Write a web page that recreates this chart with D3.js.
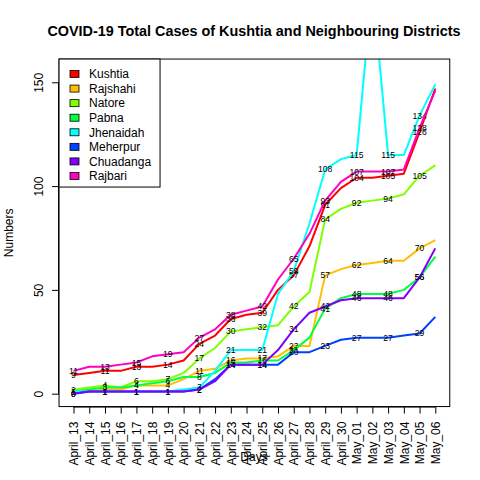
<!DOCTYPE html>
<html><head><meta charset="utf-8">
<script src="https://cdn.jsdelivr.net/npm/d3@7"></script>
<style>body{margin:0;background:#fff}svg{display:block}text{font-family:"Liberation Sans",Arial,sans-serif}</style>
</head><body><svg id="c" width="480" height="480"></svg>
<script>
const dates = ["April_13","April_14","April_15","April_16","April_17","April_18","April_19","April_20","April_21","April_22","April_23","April_24","April_25","April_26","April_27","April_28","April_29","April_30","May_01","May_02","May_03","May_04","May_05","May_06"];
const districts = ["Kushtia","Rajshahi","Natore","Pabna","Jhenaidah","Meherpur","Chuadanga","Rajbari"];
const kushtia   = [9,10,11,11,13,13,14,16,24,28,36,38,39,50,57,71,91,99,104,104,105,106,126,147];
const rajshahi  = [1,1,2,2,4,4,4,7,11,12,16,17,17,18,23,23,57,60,62,63,64,64,70,74];
const natore    = [2,3,4,3,6,6,7,10,17,22,30,31,32,33,42,49,84,89,92,93,94,96,105,110];
const pabna     = [1,2,3,3,4,5,6,8,8,10,15,15,16,16,21,27,41,46,48,48,48,50,56,66];
const jhenaidah = [1,1,1,1,1,1,1,2,3,11,21,21,21,48,59,82,108,113,115,197,115,115,134,149];
const meherpur  = [0,1,1,1,1,1,1,1,2,7,14,14,14,14,20,20,23,26,27,27,27,28,29,37];
const chuadanga = [0,1,1,1,1,1,1,1,2,6,14,14,14,21,31,39,42,45,46,46,46,46,56,70];
const rajbari   = [11,13,13,14,15,18,19,20,27,31,38,40,42,55,65,77,93,102,107,107,107,108,128,146];
const yTicks = [0,50,100,150];
const colors = ["#FF0000","#FFBF00","#80FF00","#00FF40","#00FFFF","#0040FF","#8000FF","#FF00BF"];

const series = [kushtia,rajshahi,natore,pabna,jhenaidah,meherpur,chuadanga,rajbari];
const L=59.04, R=449.76, T=59.04, B=406.56;
const svg = d3.select("#c");
const x = d3.scaleLinear().domain([1-0.04*23, 24+0.04*23]).range([L,R]);
const y = d3.scaleLinear().domain([0-0.04*155, 155+0.04*155]).range([B,T]);

svg.append("defs").append("clipPath").attr("id","clip")
  .append("rect").attr("x",L).attr("y",T).attr("width",R-L).attr("height",B-T);

const g = svg.append("g").attr("clip-path","url(#clip)");
const line = d3.line().x((d,i)=>x(i+1)).y(d=>y(d));
series.forEach((s,k)=>{
  g.append("path").datum(s).attr("d",line).attr("fill","none")
    .attr("stroke",colors[k]).attr("stroke-width",2).attr("stroke-linejoin","round");
  g.selectAll(null).data(s.map((v,i)=>({v,i})).filter(d=>d.i%2===0)).enter()
    .append("text").attr("x",d=>x(d.i+1)).attr("y",d=>y(d.v))
    .attr("text-anchor","middle").attr("dominant-baseline","central")
    .attr("font-size","8.6px").attr("fill","#000").text(d=>d.v);
});

// box
svg.append("rect").attr("x",L).attr("y",T).attr("width",R-L).attr("height",B-T)
  .attr("fill","none").attr("stroke","#000").attr("stroke-width",1);

// x axis
const xa = d3.axisBottom(x).tickValues(d3.range(1,25)).tickSize(7).tickFormat(d=>dates[d-1]);
const gx = svg.append("g").attr("transform",`translate(0,${B})`).call(xa);
gx.select(".domain").attr("d",`M${x(1)},0.5H${x(24)}`).attr("stroke","#000");
gx.selectAll(".tick line").attr("stroke","#000");
gx.selectAll(".tick text").attr("font-size","12px").attr("fill","#000")
  .attr("font-family","Liberation Sans, Arial, sans-serif")
  .attr("text-anchor","end").attr("dy","0.35em")
  .attr("transform","translate(0,15) rotate(-90)").attr("x",0).attr("y",0);

// y axis
const ya = d3.axisLeft(y).tickValues(yTicks).tickSize(7).tickFormat(d3.format("d"));
const gy = svg.append("g").attr("transform",`translate(${L},0)`).call(ya);
gy.select(".domain").attr("d",`M-0.5,${y(0)}V${y(150)}`).attr("stroke","#000");
gy.selectAll(".tick line").attr("stroke","#000");
gy.selectAll(".tick text").attr("font-size","12px").attr("fill","#000")
  .attr("font-family","Liberation Sans, Arial, sans-serif")
  .attr("text-anchor","middle").attr("x",0).attr("y",0).attr("dy",0)
  .attr("transform","translate(-16,0) rotate(-90)");

// titles
svg.append("text").attr("x",254).attr("y",36).attr("text-anchor","middle")
  .attr("font-size","14.4px").attr("font-weight","bold").text("COVID-19 Total Cases of Kushtia and Neighbouring Districts");
svg.append("text").attr("x",254).attr("y",461).attr("text-anchor","middle")
  .attr("font-size","12px").text("Days");
svg.append("text").attr("transform",`translate(13,${(T+B)/2}) rotate(-90)`).attr("text-anchor","middle")
  .attr("font-size","12px").text("Numbers");

// legend
const lg = svg.append("g");
lg.append("rect").attr("x",L).attr("y",T).attr("width",101).attr("height",128)
  .attr("fill","#fff").attr("stroke","#000");
districts.forEach((d,k)=>{
  const cy = 74 + k*14.57;
  lg.append("rect").attr("x",70).attr("y",cy-3.5).attr("width",9).attr("height",7)
    .attr("fill",colors[k]).attr("stroke","#000").attr("stroke-width",0.8);
  lg.append("text").attr("x",89).attr("y",cy+4.3).attr("font-size","12px").text(d);
});
</script></body></html>
